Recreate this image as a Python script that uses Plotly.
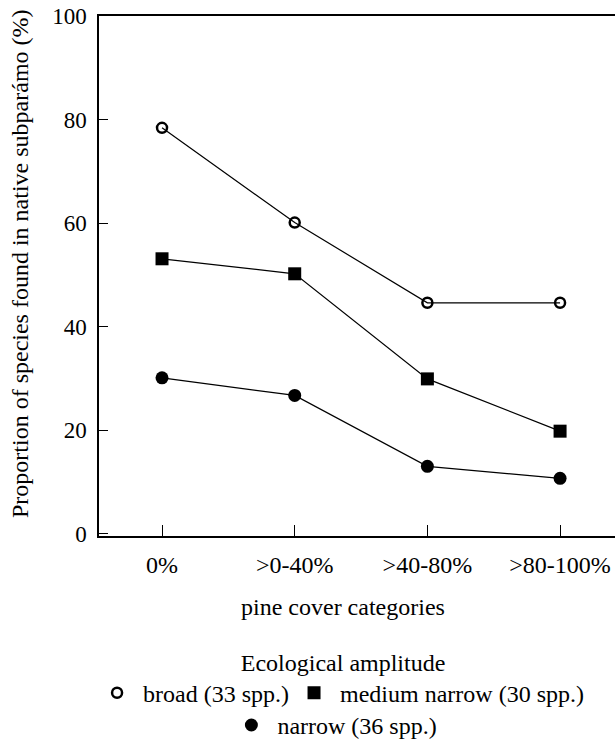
import plotly.graph_objects as go

categories = ["0%", ">0-40%", ">40-80%", ">80-100%"]
broad = [78.4, 60.1, 44.6, 44.6]
medium_narrow = [53.1, 50.2, 29.9, 19.8]
narrow = [30.1, 26.7, 13.0, 10.7]

y_ticks = [0, 20, 40, 60, 80, 100]

FONT = "Liberation Serif"

fig = go.Figure()

series = [
    ("\u00a0broad (33 spp.)", broad, dict(symbol="circle-open", size=10, color="black", line=dict(width=2.5, color="black")), "legend"),
    ("\u00a0medium narrow (30 spp.)", medium_narrow, dict(symbol="square", size=13, color="black"), "legend"),
    ("\u00a0narrow (36 spp.)", narrow, dict(symbol="circle", size=13, color="black"), "legend2"),
]

for name, vals, mk, lg in series:
    fig.add_trace(go.Scatter(x=categories, y=vals, mode="lines",
                             line=dict(color="black", width=1.2),
                             showlegend=False, hoverinfo="skip"))
for name, vals, mk, lg in series:
    fig.add_trace(go.Scatter(x=categories, y=vals, mode="markers", name=name,
                             marker=mk, legend=lg))

fig.update_layout(
    width=615, height=742,
    margin=dict(l=99, r=0, t=16, b=206, autoexpand=False),
    paper_bgcolor="white", plot_bgcolor="white",
    font=dict(family=FONT, size=24, color="black"),
    xaxis=dict(type="category", range=[-0.475, 3.414], showgrid=False, zeroline=False,
               showline=True, linecolor="black", linewidth=1.5, mirror=True,
               ticks="inside", ticklen=11, tickwidth=1.2, tickcolor="black",
               tickfont=dict(family=FONT, size=24), ticklabelstandoff=6),
    yaxis=dict(range=[-0.45, 100], showgrid=False, zeroline=False,
               showline=True, linecolor="black", linewidth=1.5, mirror=False,
               ticks="inside", ticklen=9, tickwidth=1.2, tickcolor="black",
               tickvals=y_ticks, tickfont=dict(family=FONT, size=23), ticklabelstandoff=6),
    legend=dict(orientation="h", x=0.473, xanchor="center", y=-0.199, yanchor="top",
                title=dict(text="Ecological amplitude", side="top center", font=dict(family=FONT, size=24)),
                font=dict(family=FONT, size=24), bgcolor="rgba(0,0,0,0)", itemwidth=30),
    legend2=dict(orientation="h", x=0.461, xanchor="center", y=-0.321, yanchor="top",
                 font=dict(family=FONT, size=24), bgcolor="rgba(0,0,0,0)", itemwidth=30),
    annotations=[
        dict(text="pine cover categories", xref="paper", yref="paper",
             x=(343 - 99) / 516, y=(536 - 607) / 520, xanchor="center", yanchor="middle",
             showarrow=False, font=dict(family=FONT, size=24)),
        dict(text="Proportion of species found in native subparámo (%)", xref="paper", yref="paper",
             x=(20 - 99) / 516, y=(536 - 264) / 520, xanchor="center", yanchor="middle",
             textangle=-90, showarrow=False, font=dict(family=FONT, size=24)),
    ],
)

fig.write_html("out.html")
